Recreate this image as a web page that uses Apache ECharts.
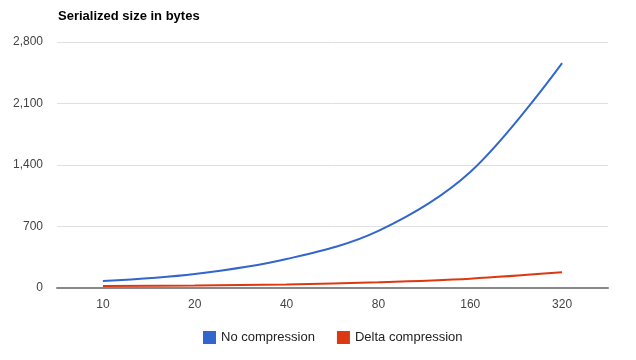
<!DOCTYPE html>
<html><head><meta charset="utf-8">
<script src="https://cdn.jsdelivr.net/npm/echarts@6/dist/echarts.min.js"></script>
<style>html,body{margin:0;padding:0;background:#fff}#c{width:636px;height:360px}</style>
</head><body><div id="c"></div>
<script>
var categories = ['10','20','40','80','160','320'];
var noCompression = [80, 160, 330, 650, 1320, 2560];
var deltaCompression = [22, 28, 40, 65, 106, 178];
var yTicks = [0, 700, 1400, 2100, 2800];

var chart = echarts.init(document.getElementById('c'), null, {renderer:'canvas'});
chart.setOption({
  animation: false,
  title: {text: 'Serialized size in bytes', left: 53, top: 5,
    textStyle: {fontFamily: 'Liberation Sans, Arial', fontSize: 13, fontWeight: 'bold', color: '#000'}},
  grid: {left: 57, right: 28, top: 42, bottom: 72, containLabel: false},
  legend: {top: 326, left: 198, itemWidth: 13, itemHeight: 13, itemGap: 22,
    icon: 'rect',
    textStyle: {fontFamily: 'Liberation Sans, Arial', fontSize: 13, color: '#222'},
    data: ['No compression', 'Delta compression']},
  xAxis: {type: 'category', data: categories, boundaryGap: true,
    axisLine: {show: true, lineStyle: {color: '#888', width: 2}},
    axisTick: {show: false},
    axisLabel: {color: '#444', fontFamily: 'Liberation Sans, Arial', fontSize: 12, margin: 11}},
  yAxis: {type: 'value', min: yTicks[0], max: yTicks[yTicks.length-1], interval: 700,
    axisLine: {show: false}, axisTick: {show: false},
    splitLine: {lineStyle: {color: '#e0e0e0', width: 1}},
    axisLabel: {color: '#444', fontFamily: 'Liberation Sans, Arial', fontSize: 12, margin: 14,
      formatter: function(v){ return v.toLocaleString('en-US'); }}},
  series: [
    {name: 'No compression', type: 'line', data: noCompression, smooth: 0.35, showSymbol: false,
      symbol: 'none', lineStyle: {color: '#3366cc', width: 2}, itemStyle: {color: '#3366cc'}},
    {name: 'Delta compression', type: 'line', data: deltaCompression, smooth: 0.35, showSymbol: false,
      symbol: 'none', lineStyle: {color: '#dc3912', width: 2}, itemStyle: {color: '#dc3912'}}
  ]
});
</script></body></html>
